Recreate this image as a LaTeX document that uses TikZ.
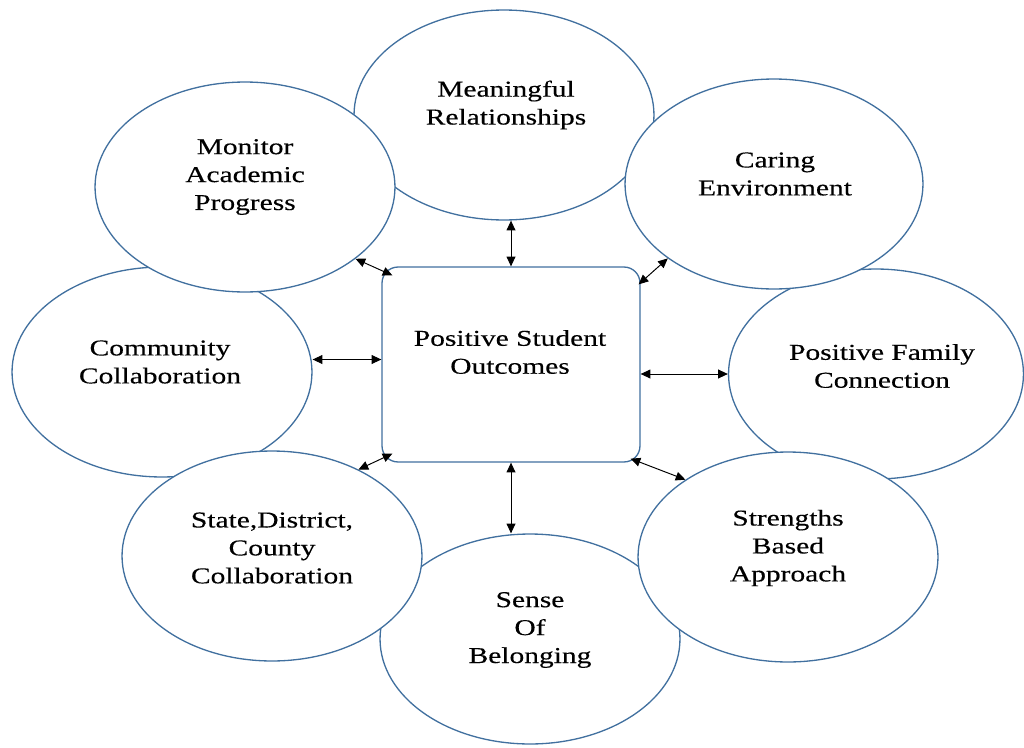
\documentclass[tikz,border=0pt]{standalone}
\usepackage{fontspec}
\setmainfont{Liberation Serif}[FakeStretch=1.3,FakeBold=0.3]
\usepackage{tikz}
\usetikzlibrary{arrows.meta,shapes.geometric,calc}
\definecolor{rim}{HTML}{41709F}
\tikzset{
  every picture/.style={line join=round, line cap=round, >=Stealth},
  bubble/.style={ellipse, draw=rim, line width=0.75pt, fill=white, inner sep=0pt, minimum width=6cm, minimum height=4.2cm},
  hub/.style={rectangle, draw=rim, line width=0.75pt, fill=white, rounded corners=0.32cm, inner sep=0pt, minimum width=5.16cm, minimum height=3.9cm},
  txt/.style={align=center, inner sep=0pt, font=\fontsize{12.9}{15.9}\selectfont},
  link/.style={{Triangle[length=5.5pt,width=5pt]}-{Triangle[length=5.5pt,width=5pt]}, line width=0.55pt, black},
}

\begin{document}
\begin{tikzpicture}[x=0.02cm,y=-0.02cm]
\useasboundingbox (0,0) rectangle (1024,747);
\node[bubble] (mean) at (504,115) {};
\node[bubble,minimum width=5.9cm] (fam) at (876,374) {};
\node[bubble] (sense) at (530,639) {};
\node[bubble] (comm) at (162,372) {};
\node[bubble] (mon) at (245,187) {};
\node[bubble,minimum width=5.96cm] (care) at (774,184) {};
\node[bubble] (stren) at (788,557) {};
\node[bubble] (state) at (272,556) {};
\node[hub] (box) at (511,364.5) {};
\node[txt] (meant) at (506,105) {Meaningful\\Relationships};
\node[txt] (famt) at (882,366) {Positive Family\\Connection};
\node[txt] (senset) at (530,630) {Sense\\Of\\Belonging};
\node[txt] (commt) at (160,362) {Community\\Collaboration};
\node[txt] (mont) at (245,177) {Monitor\\Academic\\Progress};
\node[txt] (caret) at (775,174) {Caring\\Environment};
\node[txt] (strent) at (788,548) {Strengths\\Based\\Approach};
\node[txt] (statet) at (272,548) {State,District,\\County\\Collaboration};
\node[txt] (boxt) at (510,352) {Positive Student\\Outcomes};
\draw[link] (box.north) -- (box.north |- mean.south);
\draw[link] ($(box.north east)+(-2,18)$) -- (care.215);
\draw[link] (fam.west -| box.east) -- (fam.west);
\draw[link] ($(box.south east)+(-10,-4)$) -- (stren.143);
\draw[link] (box.south) -- (box.south |- sense.north);
\draw[link] ($(box.south west)+(11,-9)$) -- (state.45);
\draw[link] ($(box.west)+(0,-5)$) coordinate (lft) -- (lft -| comm.east);
\draw[link] ($(box.north west)+(11,9)$) -- (mon.-33);
\end{tikzpicture}
\end{document}
